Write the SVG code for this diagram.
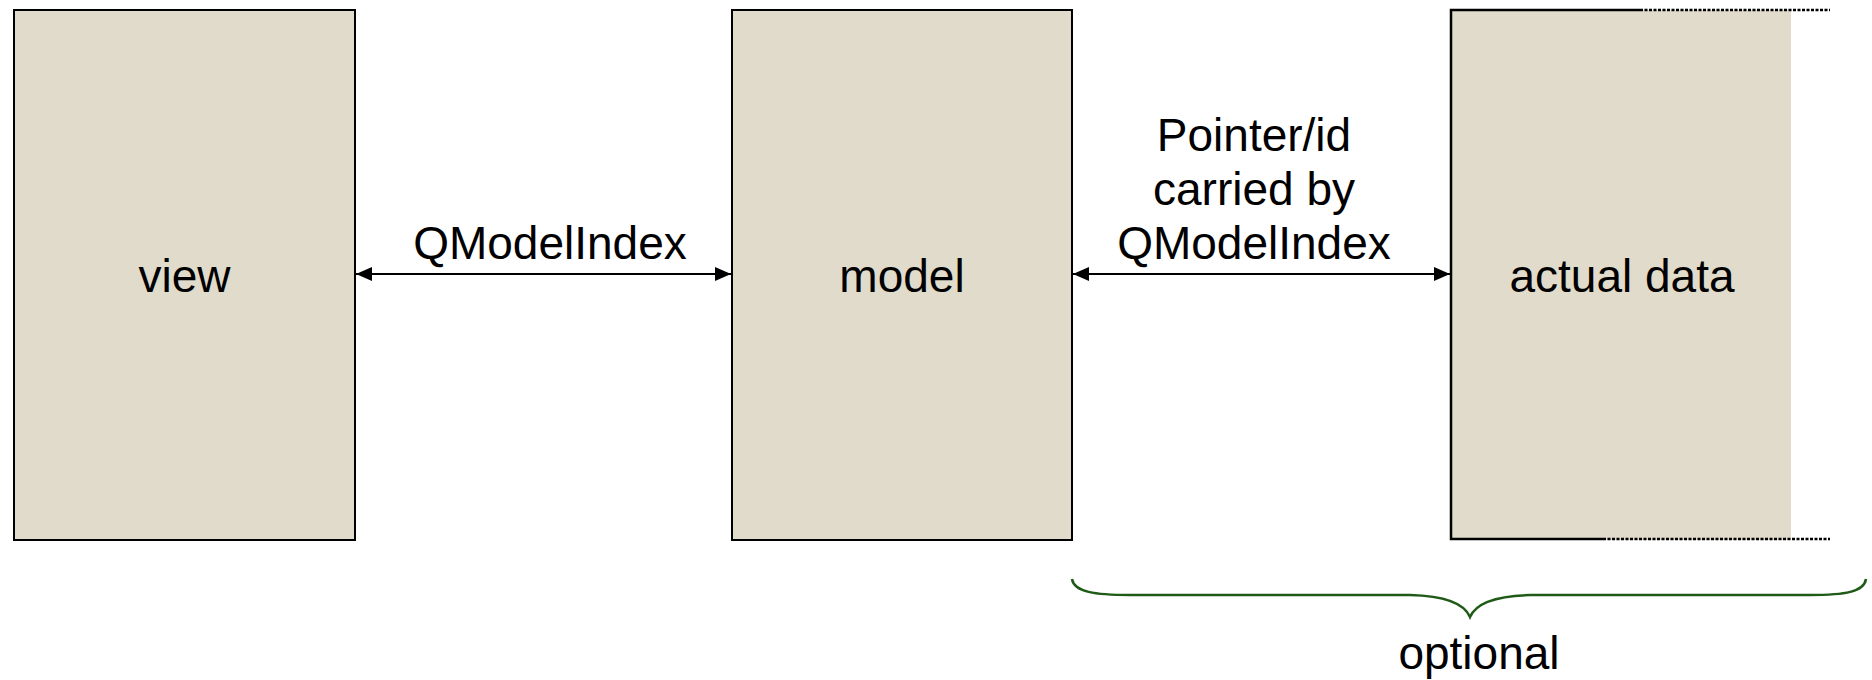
<svg xmlns="http://www.w3.org/2000/svg" width="1872" height="680" viewBox="0 0 1872 680">
<style>
.box{fill:#e0dbca;stroke:#000;stroke-width:2}
.t{font-family:"Liberation Sans",Arial,sans-serif;font-size:46px;fill:#000;text-anchor:middle}
.conn{stroke:#000;stroke-width:2;fill:none}
.edge{stroke:#000;stroke-width:2.5;fill:none}
.dot{stroke:#000;stroke-width:2.5;fill:none;stroke-dasharray:3 1.5}
</style>
<defs>
<marker id="ah" viewBox="0 0 16 14" refX="16" refY="7" markerWidth="16" markerHeight="14" markerUnits="userSpaceOnUse" orient="auto-start-reverse">
<path d="M0,0 L16,7 L0,14 Z" fill="#000"/>
</marker>
</defs>
<rect width="1872" height="680" fill="#fff"/>
<g id="view">
<rect class="box" x="14" y="10" width="341" height="530"/>
<text class="t" x="184.5" y="292">view</text>
</g>
<g id="model">
<rect class="box" x="732" y="10" width="340" height="530"/>
<text class="t" x="902" y="292">model</text>
</g>
<g id="actual-data">
<rect x="1451" y="10" width="340" height="530" fill="#e0dbca"/>
<path class="edge" d="M1640,10 H1451 V539 H1603"/>
<path class="dot" d="M1640,10 H1830"/>
<path class="dot" d="M1603,539 H1830"/>
<text class="t" x="1622" y="292">actual data</text>
</g>
<g id="connectors">
<line class="conn" x1="356" y1="274" x2="731" y2="274" marker-start="url(#ah)" marker-end="url(#ah)"/>
<text class="t" x="550" y="259">QModelIndex</text>
<line class="conn" x1="1073" y1="274" x2="1450" y2="274" marker-start="url(#ah)" marker-end="url(#ah)"/>
<text class="t" x="1254" y="151">Pointer/id</text>
<text class="t" x="1254" y="205">carried by</text>
<text class="t" x="1254" y="259">QModelIndex</text>
</g>
<g id="optional">
<path d="M1072,579 C1074,592 1095,595 1130,595 L1410,595 C1450,596 1465,605 1470,617 C1475,605 1490,596 1530,595 L1810,595 C1845,595 1864,592 1866,579" fill="none" stroke="#1f5a17" stroke-width="2.5"/>
<text class="t" x="1479" y="669">optional</text>
</g>
</svg>
